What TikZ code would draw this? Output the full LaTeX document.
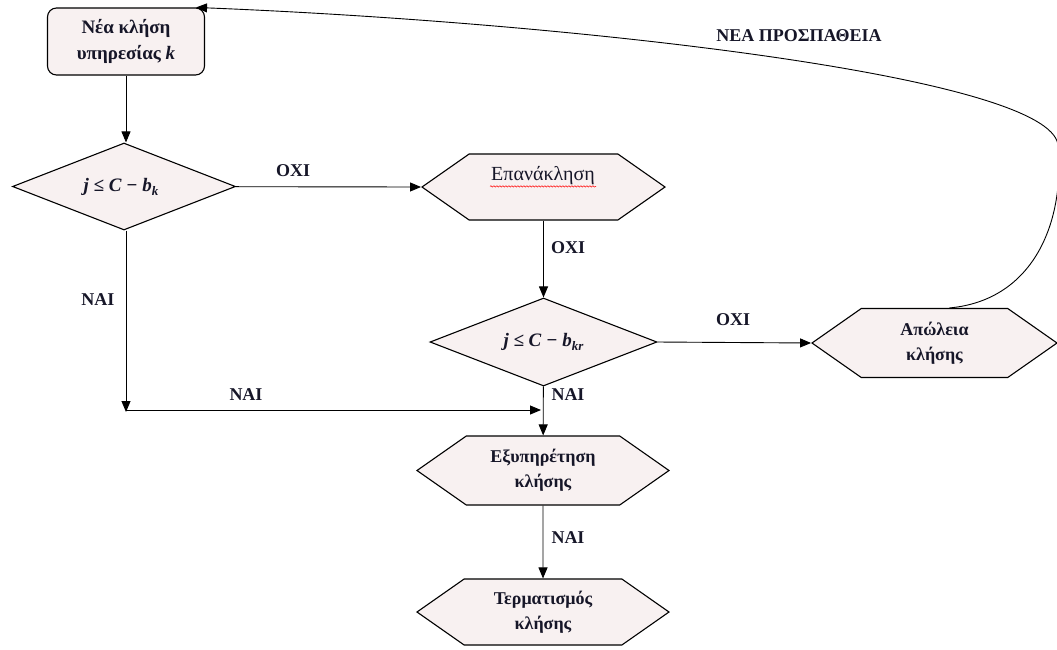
\documentclass[tikz,border=0pt]{standalone}
\usepackage{fontspec}
\setmainfont{Liberation Serif}
\usetikzlibrary{shapes.geometric,shapes.symbols,arrows.meta,decorations.pathmorphing}
\definecolor{boxfill}{RGB}{248,241,241}
\definecolor{ink}{RGB}{22,22,40}
% bold italic condition text with a lowered subscript
\newcommand{\cond}[1]{{\bfseries\itshape j ≤ C − b\raisebox{-4pt}{\fontsize{13}{13}\selectfont #1}}}
\begin{document}
\begin{tikzpicture}[x=1pt,y=-1pt,
  base/.style={draw=black, line width=1.1pt, fill=boxfill, text=ink, align=center, inner sep=0pt},
  startbox/.style={base, rounded corners=9pt, minimum width=157pt, minimum height=67pt,
    font=\fontsize{19}{26}\selectfont\bfseries},
  decision/.style={base, diamond, aspect=2.56, minimum width=223pt, minimum height=87pt,
    font=\fontsize{19}{22}\selectfont},
  hexbox/.style={base, signal, signal to=east and west, signal pointer angle=70,
    font=\fontsize{18}{25}\selectfont\bfseries},
  flow/.style={draw=black, line width=0.9pt, -{Triangle[length=11pt,width=9pt]}},
  lbl/.style={font=\fontsize{18}{20}\selectfont\bfseries, text=ink, inner sep=0pt}
]
\useasboundingbox (0,0) rectangle (1057,649);

% boxes
\node[startbox] (start) at (126,41.5) {Νέα κλήση\\υπηρεσίας \textit{k}};
\node[decision] (d1) at (124,186.5) {\cond{k}\hspace*{6pt}};
\node[hexbox, minimum width=243pt, minimum height=66pt] (rep) at (543.5,187) {};
\node[font=\fontsize{20}{22}\selectfont, text=ink, inner sep=1pt] (reptext) at (543,176) {Επανάκληση};
\node[decision, minimum width=227pt, minimum height=88pt] (d2) at (543.5,342) {\cond{kr}};
\node[hexbox, minimum width=245pt, minimum height=69pt] (apw) at (934.5,343) {Απώλεια\\κλήσης};
\node[hexbox, minimum width=252pt, minimum height=69pt] (serve) at (543,470.5) {Εξυπηρέτηση\\κλήσης};
\node[hexbox, minimum width=252pt, minimum height=66pt] (stop) at (543,612) {Τερματισμός\\κλήσης};

% spell-check squiggle under the retry label
\draw[red, line width=0.5pt, decorate, decoration={snake, amplitude=0.7pt, segment length=3pt}]
  (reptext.south west) -- (reptext.south east);

% junction points of the "yes" branch
\coordinate (c1) at (126,412);
\coordinate (j1) at (541,410);

% connectors
\draw[flow] (start.south) -- (start.south |- d1.north);
\draw[flow] (d1) -- (rep.west);
\draw[flow] (rep) -- (d2);
\draw[flow] (d2.east) -- (apw.west);
\draw[flow] (d1.south -| c1) -- (c1);
\draw[flow] (c1 |- j1) -- (j1);
\draw[flow] (d2) -- (serve);
\draw[flow] (serve) -- (stop);
\draw[flow] ([xshift=15pt]apw.north) .. controls (1035,300) and (1065,220) .. (1058,145)
  .. controls (1050,75) and (560,22) .. ([xshift=-9pt]start.north east);

% connector labels
\node[lbl] (l1) at (293,171) {ΟΧΙ};
\node[lbl] (l2) at (568,248) {ΟΧΙ};
\node[lbl] (l3) at (733,320) {ΟΧΙ};
\node[lbl] (l4) at (98,300) {ΝΑΙ};
\node[lbl] (l5) at (246,395) {ΝΑΙ};
\node[lbl] (l6) at (568,395) {ΝΑΙ};
\node[lbl] (l7) at (568,538) {ΝΑΙ};
\node[lbl] (l8) at (799,36) {ΝΕΑ ΠΡΟΣΠΑΘΕΙΑ};
\end{tikzpicture}
\end{document}
